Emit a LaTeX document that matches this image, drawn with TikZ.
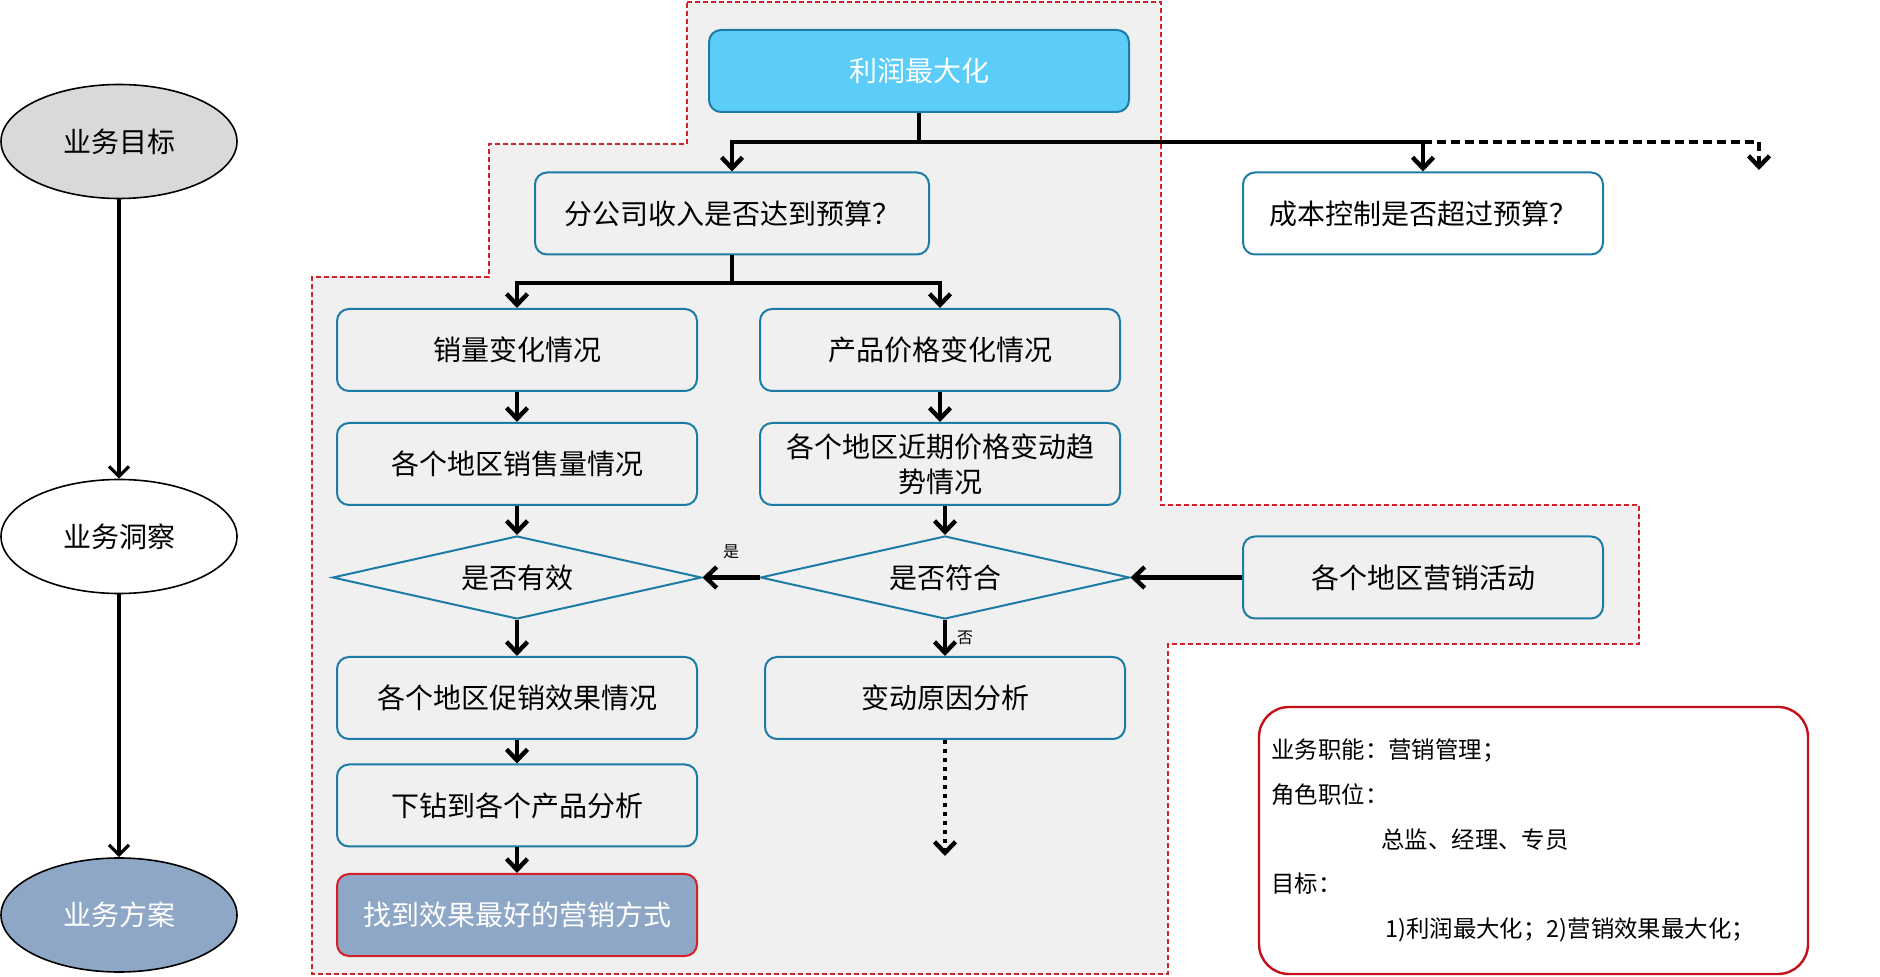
\documentclass[tikz,border=0pt]{standalone}
\usepackage{fontspec}
\setmainfont{Noto Sans CJK SC}
\usetikzlibrary{arrows.meta,shapes.geometric,positioning}
\definecolor{boxblue}{RGB}{28,124,166}
\definecolor{topcyan}{RGB}{91,205,248}
\definecolor{regiongray}{RGB}{240,240,240}
\definecolor{dashred}{RGB}{212,32,39}
\definecolor{goalgray}{RGB}{217,217,217}
\definecolor{planblue}{RGB}{143,167,198}
\definecolor{infored}{RGB}{196,16,24}
\tikzset{
  flowbox/.style={draw=boxblue, line width=1pt, rounded corners=6pt,
    minimum width=180pt, minimum height=41pt, inner sep=0pt, align=center,
    font=\fontsize{14}{17.4}\selectfont},
  decision/.style={diamond, draw=boxblue, line width=1pt, aspect=4.45,
    minimum width=184.5pt, minimum height=41.5pt, inner sep=0pt,
    font=\fontsize{14}{17}\selectfont},
  stage/.style={ellipse, draw=black, line width=0.8pt, minimum width=118pt,
    minimum height=57pt, inner sep=0pt, font=\fontsize{14}{17}\selectfont},
  flow/.style={-{Straight Barb[length=5.5pt,width=10.5pt]}, line width=2.2pt},
  stagearrow/.style={-{Straight Barb[length=5pt,width=10pt]}, line width=1.6pt},
  infobox/.style={draw=infored, line width=1.2pt, rounded corners=15pt,
    minimum width=274.5pt, minimum height=133.5pt},
  smalllabel/.style={font=\fontsize{8}{9}\selectfont, inner sep=1pt}
}
\begin{document}
\begin{tikzpicture}[x=0.5pt,y=-0.5pt]
    \useasboundingbox (0,0) rectangle (1880,977);

    % 分析范围（灰底红虚线）
    \path[fill=regiongray, draw=dashred, line width=1pt, dash pattern=on 2.5pt off 1.5pt]
        (687,2) -- (1161,2) -- (1161,505) -- (1639,505) -- (1639,644) -- (1168,644)
        -- (1168,974) -- (312,974) -- (312,277) -- (489,277) -- (489,144) -- (687,144) -- cycle;

    % 左侧三个阶段
    \node[stage, fill=goalgray] (goal) at (119,141.5) {业务目标};
    \node[stage, fill=white] (insight) at (119,536.5) {业务洞察};
    \node[stage, fill=planblue, text=white] (plan) at (119,915) {业务方案};
    \draw[stagearrow] (goal) -- (insight);
    \draw[stagearrow] (insight) -- (plan);

    % 流程框
    \node[flowbox, fill=topcyan, text=white, minimum width=210pt] (profit) at (919,71) {利润最大化};
    \node[flowbox, minimum width=197pt] (revenue) at (732,213.5) {分公司收入是否达到预算？};
    \node[flowbox] (cost) at (1423,213.5) {成本控制是否超过预算？};
    \node[flowbox] (volume) at (517,350) {销量变化情况};
    \node[flowbox] (price) at (940,350) {产品价格变化情况};
    \node[flowbox] (regvol) at (517,464) {各个地区销售量情况};
    \node[flowbox] (regprice) at (940,464) {各个地区近期价格变动趋\\势情况};
    \node[decision] (valid) at (517,577.5) {是否有效};
    \node[decision] (match) at (945,577.5) {是否符合};
    \node[flowbox] (campaign) at (1423,577.5) {各个地区营销活动};
    \node[flowbox] (promo) at (517,698) {各个地区促销效果情况};
    \node[flowbox] (cause) at (945,698) {变动原因分析};
    \node[flowbox] (drill) at (517,805.5) {下钻到各个产品分析};
    \node[flowbox, fill=planblue, draw=dashred, text=white] (best) at (517,915) {找到效果最好的营销方式};

    % 分支点
    \coordinate (split) at (919,142);
    \coordinate (more) at (1759,170);
    \coordinate (split2) at (732,283);
    \coordinate (next) at (945,856);

    % 连线
    \draw[flow] (profit.south) -- (split) -| (revenue.north);
    \draw[flow] (split) -| (cost.north);
    \draw[flow, dash pattern=on 4.5pt off 2.5pt] (split) -| (more);
    \draw[flow] (revenue.south) -- (split2) -| (volume.north);
    \draw[flow] (split2) -| (price.north);
    \draw[flow] (volume) -- (regvol);
    \draw[flow] (price) -- (regprice);
    \draw[flow] (regvol) -- (valid);
    \draw[flow] (regprice.south -| match.north) -- (match.north);
    \draw[flow] (campaign.west) -- (match.east);
    \draw[flow] (match.west) -- (valid.east) node[smalllabel, pos=0.5, above=7pt] (yes) {是};
    \draw[flow] (match.south) -- (cause.north) node[smalllabel, pos=0.5, right=4pt] (no) {否};
    \draw[flow, dash pattern=on 2.2pt off 2.3pt] (cause.south) -- (next);
    \draw[flow] (valid) -- (promo);
    \draw[flow] (promo) -- (drill);
    \draw[flow] (drill) -- (best);

    % 说明框
    \node[infobox] (info) at (1533.5,840.5) {};
    \node[anchor=west, align=left, inner sep=0pt, font=\fontsize{11.7}{22.4}\selectfont] (infotext) at (1271,840.5)
        {业务职能：营销管理；\\角色职位：\\\hspace*{55pt}总监、经理、专员\\目标：\\\hspace*{57pt}1)利润最大化；2)营销效果最大化；};
\end{tikzpicture}
\end{document}
